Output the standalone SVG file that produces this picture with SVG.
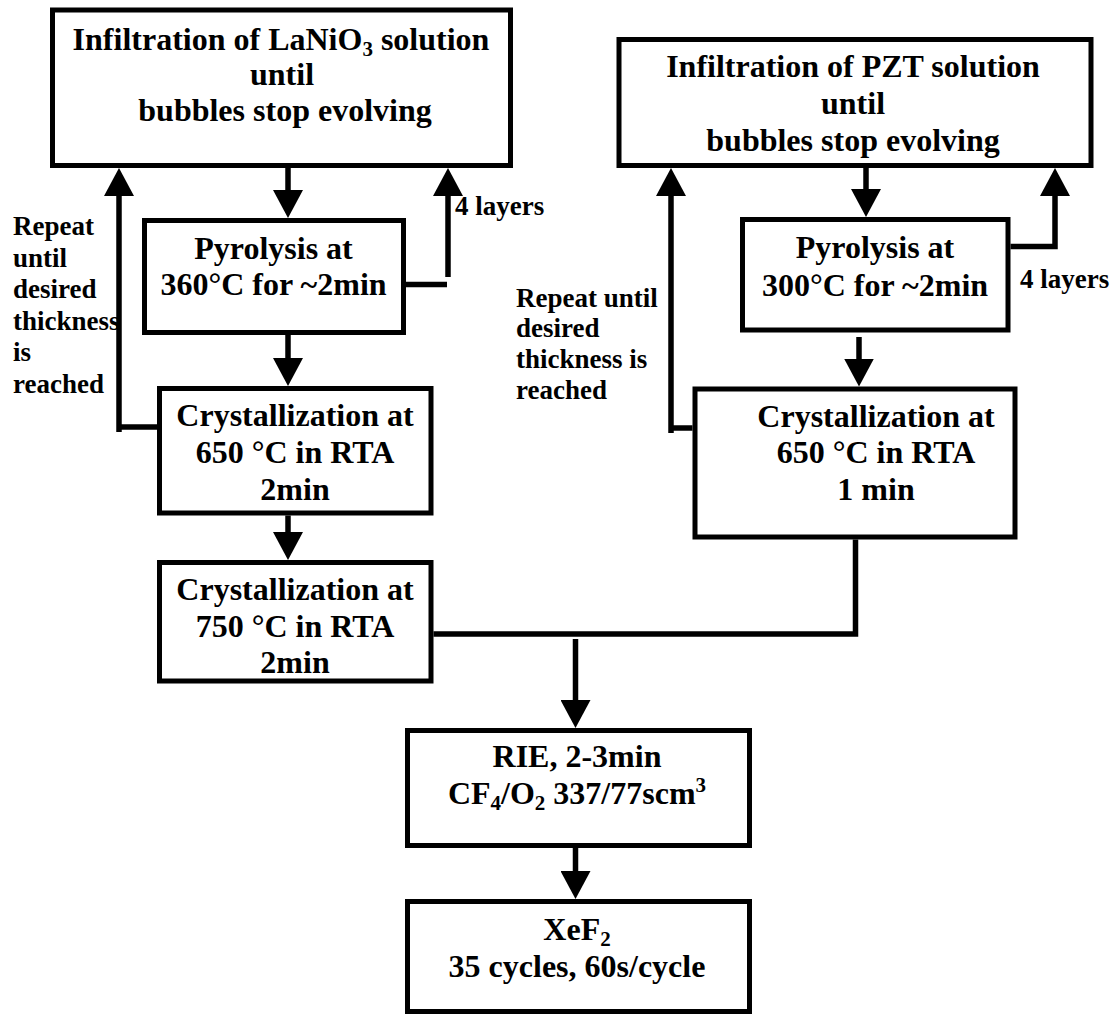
<svg xmlns="http://www.w3.org/2000/svg" width="1117" height="1017" viewBox="0 0 1117 1017">
  <defs>
    <style>
      .box { fill: #fff; stroke: #000; stroke-width: 5; }
      .c { fill: none; stroke: #000; stroke-width: 5.5; stroke-linejoin: miter; }
      .t { font-family: "Liberation Serif", "Times New Roman", serif; font-weight: bold; font-size: 32px; text-anchor: middle; fill: #000; }
      .l { font-family: "Liberation Serif", "Times New Roman", serif; font-weight: bold; font-size: 27px; fill: #000; }
    </style>
    <marker id="ah" viewBox="0 0 28 30" markerWidth="28" markerHeight="30" refX="18" refY="15" orient="auto" markerUnits="userSpaceOnUse">
      <path d="M0,0 L28,15 L0,30 Z" fill="#000"/>
    </marker>
  </defs>

  <rect width="1117" height="1017" fill="#fff"/>

  <!-- connectors -->
  <g id="connectors">
    <!-- LaNiO3 branch -->
    <line class="c" x1="288" y1="168" x2="288" y2="208" marker-end="url(#ah)"/>
    <line class="c" x1="288" y1="335" x2="288" y2="376" marker-end="url(#ah)"/>
    <line class="c" x1="288" y1="515.5" x2="288" y2="550" marker-end="url(#ah)"/>
    <path class="c" d="M119,432 V178" marker-end="url(#ah)"/>
    <path class="c" d="M119,427 H157"/>
    <path class="c" d="M448,277 V178" marker-end="url(#ah)"/>
    <path class="c" d="M406,284.5 H447"/>
    <!-- PZT branch -->
    <line class="c" x1="866" y1="168" x2="866" y2="207" marker-end="url(#ah)"/>
    <line class="c" x1="859" y1="337" x2="859" y2="376.5" marker-end="url(#ah)"/>
    <path class="c" d="M671,433 V178" marker-end="url(#ah)"/>
    <path class="c" d="M671,428 H692.5"/>
    <path class="c" d="M1010.5,246.5 H1055 V178" marker-end="url(#ah)"/>
    <!-- merge into etching steps -->
    <path class="c" d="M433.5,634 H855.5 V539.5"/>
    <line class="c" x1="575.5" y1="639" x2="575.5" y2="718" marker-end="url(#ah)"/>
    <line class="c" x1="575.5" y1="848" x2="575.5" y2="889" marker-end="url(#ah)"/>
  </g>

  <!-- loop labels -->
  <g id="labels">
    <text class="l" x="13" y="235">Repeat</text>
    <text class="l" x="13" y="266.6">until</text>
    <text class="l" x="13" y="298.2">desired</text>
    <text class="l" x="13" y="329.8">thickness</text>
    <text class="l" x="13" y="361.4">is</text>
    <text class="l" x="13" y="393">reached</text>
    <text class="l" x="455" y="215">4 layers</text>
    <text class="l" x="516" y="306.5">Repeat until</text>
    <text class="l" x="516" y="337">desired</text>
    <text class="l" x="516" y="368">thickness is</text>
    <text class="l" x="516" y="398.5">reached</text>
    <text class="l" x="1020" y="288">4 layers</text>
  </g>

  <g id="lanio-infiltration">
    <rect class="box" x="52.5" y="10" width="458" height="155.5"/>
    <text class="t" x="281" y="50">Infiltration of LaNiO<tspan font-size="21" dy="6">3</tspan><tspan dy="-6"> solution</tspan></text>
    <text class="t" x="282" y="85">until</text>
    <text class="t" x="285" y="120.5">bubbles stop evolving</text>
  </g>

  <g id="lanio-pyrolysis">
    <rect class="box" x="144.5" y="220.5" width="259" height="112"/>
    <text class="t" x="273.5" y="259">Pyrolysis at</text>
    <text class="t" x="273.5" y="295">360°C for ~2min</text>
  </g>

  <g id="lanio-cryst-650">
    <rect class="box" x="159.5" y="388.5" width="271.5" height="124.5"/>
    <text class="t" x="295" y="426">Crystallization at</text>
    <text class="t" x="295" y="463">650 °C in RTA</text>
    <text class="t" x="295" y="500">2min</text>
  </g>

  <g id="cryst-750">
    <rect class="box" x="159.5" y="562.5" width="271.5" height="118.5"/>
    <text class="t" x="295" y="600">Crystallization at</text>
    <text class="t" x="295" y="637">750 °C in RTA</text>
    <text class="t" x="295" y="673">2min</text>
  </g>

  <g id="pzt-infiltration">
    <rect class="box" x="619" y="39.5" width="472" height="126"/>
    <text class="t" x="853" y="77">Infiltration of PZT solution</text>
    <text class="t" x="853" y="114">until</text>
    <text class="t" x="853" y="151">bubbles stop evolving</text>
  </g>

  <g id="pzt-pyrolysis">
    <rect class="box" x="742.5" y="219.5" width="265.5" height="110.5"/>
    <text class="t" x="875" y="258">Pyrolysis at</text>
    <text class="t" x="875" y="296">300°C for ~2min</text>
  </g>

  <g id="pzt-cryst-650">
    <rect class="box" x="695" y="389" width="320" height="148"/>
    <text class="t" x="876" y="427">Crystallization at</text>
    <text class="t" x="876" y="463">650 °C in RTA</text>
    <text class="t" x="876" y="500">1 min</text>
  </g>

  <g id="rie">
    <rect class="box" x="407.5" y="730.5" width="342" height="115"/>
    <text class="t" x="577" y="767">RIE, 2-3min</text>
    <text class="t" x="577" y="804">CF<tspan font-size="21" dy="6">4</tspan><tspan dy="-6">/O</tspan><tspan font-size="21" dy="6">2</tspan><tspan dy="-6"> 337/77scm</tspan><tspan font-size="21" dy="-12">3</tspan></text>
  </g>

  <g id="xef2">
    <rect class="box" x="407.5" y="901.5" width="342" height="110"/>
    <text class="t" x="577" y="940">XeF<tspan font-size="21" dy="6">2</tspan></text>
    <text class="t" x="577" y="977">35 cycles, 60s/cycle</text>
  </g>
</svg>
